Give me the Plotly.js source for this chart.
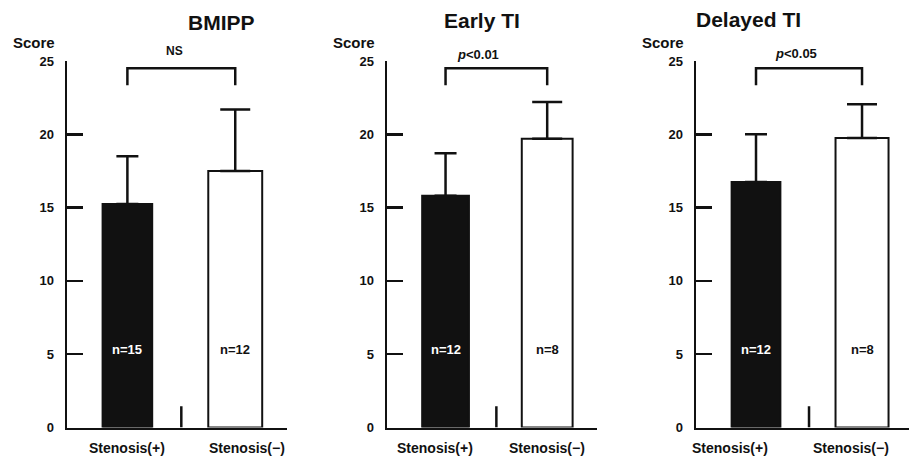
<!DOCTYPE html>
<html>
<head>
<meta charset="utf-8">
<script src="https://cdn.plot.ly/plotly-3.0.1.min.js"></script>
<style>html,body{margin:0;padding:0;background:#fff;}#chart{width:909px;height:457px;}</style>
</head>
<body>
<div id="chart"></div>
<script>
const titles = ['BMIPP', 'Early TI', 'Delayed TI'];
const categories = ['Stenosis(+)', 'Stenosis(−)'];
const meanPlus = [15.25, 15.8, 16.75];
const sdPlus = [3.25, 2.9, 3.25];
const meanMinus = [17.5, 19.7, 19.75];
const sdMinus = [4.2, 2.5, 2.3];
const nPlus = [15, 12, 12];
const nMinus = [12, 8, 8];
const sigLabels = ['NS', '<i>p</i>&lt;0.01', '<i>p</i>&lt;0.05'];
const yTicks = [0, 5, 10, 15, 20, 25];

// layout styling per panel (pixel-derived)
const W = 909, H = 457;
const xDomPx = [[67, 287], [387, 597], [696, 909]];
const xRanges = [[-0.56, 1.48], [-0.576, 1.49], [-0.566, 1.443]];
const titleXpx = [186, 482, 803];
const titleYpx = [22, 20, 19];
const sigShift = [-7, -18, -13];
const sigYShift = [10, 6, 7];
const catShift = [[0, 12], [-11, 0], [-26, -11]];
const yDom = [(H - 427.5) / H, (H - 61) / H];

const font = 'Liberation Sans, Arial, sans-serif';
const traces = [];
const shapes = [];
const annotations = [];
const layout = {
  width: W, height: H,
  margin: {l: 0, r: 0, t: 0, b: 0},
  paper_bgcolor: '#fff', plot_bgcolor: 'rgba(0,0,0,0)',
  showlegend: false, barmode: 'overlay',
  font: {family: font, color: '#111'},
  shapes: shapes, annotations: annotations
};

for (let i = 0; i < 3; i++) {
  const s = i === 0 ? '' : String(i + 1);
  const xa = 'x' + s, ya = 'y' + s;
  layout['xaxis' + s] = {
    domain: [xDomPx[i][0] / W, xDomPx[i][1] / W],
    anchor: ya, type: 'category', categoryarray: categories, categoryorder: 'array',
    range: xRanges[i], showline: true, linecolor: '#111', linewidth: 2.5,
    ticks: '', showticklabels: false, showgrid: false, zeroline: false, fixedrange: true
  };
  layout['yaxis' + s] = {
    domain: yDom, anchor: xa, range: [0, 25],
    tickmode: 'array', tickvals: yTicks, ticks: 'inside', ticklen: 16, tickwidth: 2.5, tickcolor: '#111',
    showline: true, linecolor: '#111', linewidth: 2.5,
    showgrid: false, zeroline: false, ticklabelstandoff: 8,
    tickfont: {family: font, size: 13, color: '#111', weight: 'bold'}, fixedrange: true
  };
  traces.push({
    type: 'bar', x: [categories[0]], y: [meanPlus[i]], xaxis: xa, yaxis: ya, width: 0.46,
    marker: {color: '#111', line: {color: '#111', width: 2}},
    error_y: {type: 'data', symmetric: false, array: [sdPlus[i]], arrayminus: [0], color: '#111', thickness: 2.5, width: 11},
    hoverinfo: 'skip'
  });
  traces.push({
    type: 'bar', x: [categories[1]], y: [meanMinus[i]], xaxis: xa, yaxis: ya, width: 0.5,
    marker: {color: '#fff', line: {color: '#111', width: 2}},
    error_y: {type: 'data', symmetric: false, array: [sdMinus[i]], arrayminus: [0], color: '#111', thickness: 2.5, width: 15},
    hoverinfo: 'skip'
  });
  // divider tick between categories
  shapes.push({type: 'line', xref: xa, yref: ya, x0: 0.5, x1: 0.5, y0: 0, y1: 1.45, line: {color: '#111', width: 2.5}});
  // significance bracket
  shapes.push({type: 'path', xref: xa, yref: ya,
    path: 'M 0,23.35 L 0,24.5 L 1,24.5 L 1,23.35', line: {color: '#111', width: 2.5}});
  annotations.push({xref: xa, yref: ya + ' domain', x: 0.5, y: 1, yanchor: 'middle', yshift: sigYShift[i],
    xshift: sigShift[i], text: sigLabels[i], showarrow: false,
    font: {family: font, size: i === 0 ? 12 : 13, color: '#111', weight: 'bold'}});
  // titles
  annotations.push({xref: 'paper', yref: 'paper', x: titleXpx[i] / W, y: (H - titleYpx[i]) / H, yanchor: 'middle',
    text: titles[i], showarrow: false, font: {family: font, size: 21, color: '#111', weight: 'bold'}});
  // Score label
  annotations.push({xref: xa + ' domain', yref: ya + ' domain', x: 0, y: 1, xanchor: 'right', yanchor: 'middle',
    xshift: -10, yshift: 18, text: 'Score', showarrow: false, font: {family: font, size: 15, color: '#111', weight: 'bold'}});
  // n labels
  annotations.push({xref: xa, yref: ya, x: categories[0], y: 5.3, text: 'n=' + nPlus[i], showarrow: false,
    font: {family: font, size: 13, color: '#fff', weight: 'bold'}});
  annotations.push({xref: xa, yref: ya, x: categories[1], y: 5.3, text: 'n=' + nMinus[i], showarrow: false,
    font: {family: font, size: 13, color: '#111', weight: 'bold'}});
  // category labels
  for (let k = 0; k < 2; k++) {
    annotations.push({xref: xa, yref: ya + ' domain', x: categories[k], y: 0, yanchor: 'middle', yshift: -20,
      xshift: catShift[i][k], text: categories[k], showarrow: false, borderpad: 0,
      font: {family: font, size: 14, color: '#111', weight: 'bold'}});
  }
}

Plotly.newPlot('chart', traces, layout, {staticPlot: true, displayModeBar: false});
</script>
</body>
</html>
